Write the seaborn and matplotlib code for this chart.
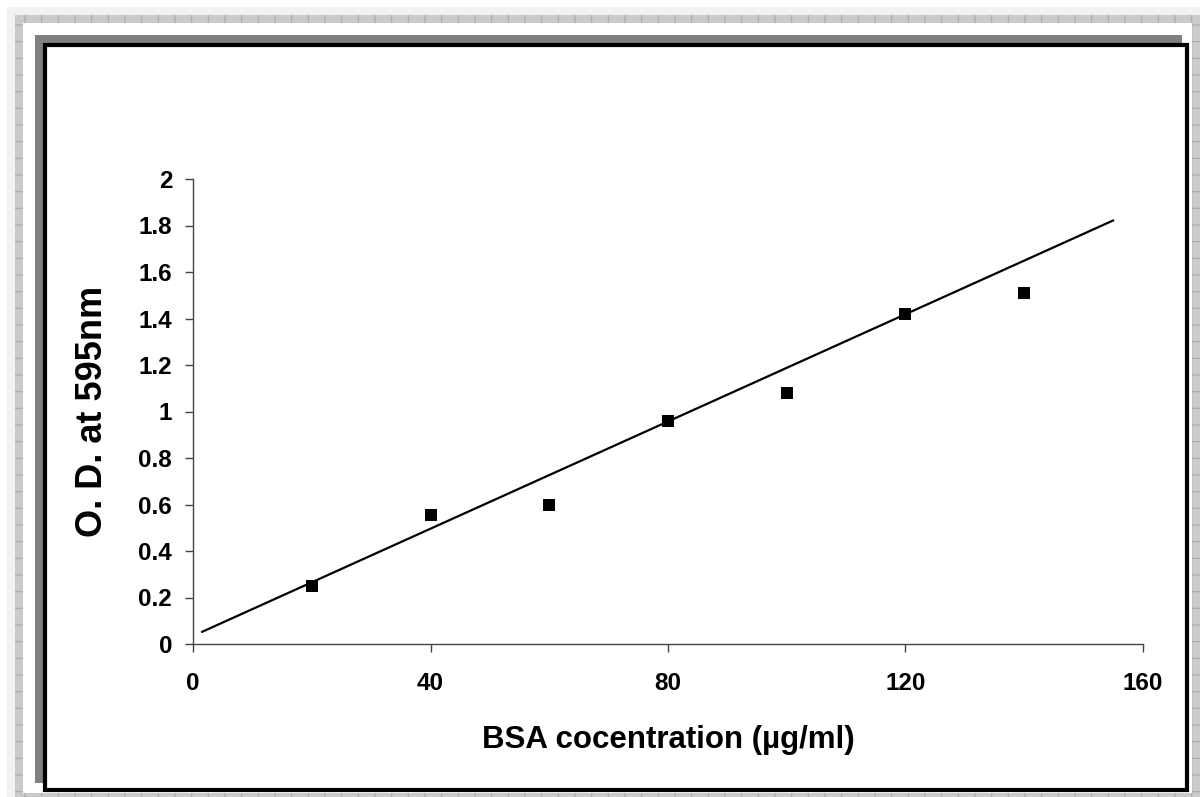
import numpy as np
import pandas as pd
import seaborn as sns
import matplotlib.pyplot as plt
from matplotlib.patches import Rectangle

# standard curve readings
bsa_conc = [20, 40, 60, 80, 100, 120, 140]
od_595 = [0.25, 0.555, 0.60, 0.96, 1.08, 1.42, 1.51]

# fitted line as drawn on the chart (end points)
trend_x = [1.5, 155.0]
trend_y = [0.052, 1.822]

x_ticks = [0, 40, 80, 120, 160]
y_ticks = [0, 0.2, 0.4, 0.6, 0.8, 1, 1.2, 1.4, 1.6, 1.8, 2]
y_tick_labels = ['0', '0.2', '0.4', '0.6', '0.8', '1', '1.2', '1.4', '1.6', '1.8', '2']

sns.set_style("ticks")
plt.rcParams['font.family'] = ['Liberation Sans', 'DejaVu Sans']
plt.rcParams['font.weight'] = 'bold'
plt.rcParams['hatch.linewidth'] = 0.8
plt.rcParams['text.color'] = 'black'
plt.rcParams['axes.labelcolor'] = 'black'
plt.rcParams['xtick.labelcolor'] = 'black'
plt.rcParams['ytick.labelcolor'] = 'black'

W, H = 1200, 797
fig = plt.figure(figsize=(12, 7.97), dpi=100, facecolor='white')

# frame decoration drawn in pixel coords
bg = fig.add_axes([0, 0, 1, 1], zorder=0)
bg.set_xlim(0, W)
bg.set_ylim(H, 0)
bg.axis('off')
bg.add_patch(Rectangle((7, 7), W - 7, H - 7, facecolor='#f2f2f2', edgecolor='none'))
bg.add_patch(Rectangle((15, 15), W - 15, H - 15, facecolor='#cbcbcb',
                       edgecolor='#a9a9a9', hatch='+', linewidth=0))
bg.add_patch(Rectangle((23, 23), 1192 - 23, 793 - 23, facecolor='white', edgecolor='none'))
bg.add_patch(Rectangle((35, 35), 1182 - 35, 783 - 35, facecolor='#808080', edgecolor='none'))
bg.add_patch(Rectangle((45, 45), 1187 - 45, 790 - 45, facecolor='white',
                       edgecolor='black', linewidth=3))

ax = fig.add_axes([193 / W, 1 - 644 / H, 950 / W, 465 / H], zorder=1)
ax.set_facecolor('none')

df = pd.DataFrame({'conc': bsa_conc, 'od': od_595})
trend = pd.DataFrame({'conc': trend_x, 'od': trend_y})

sns.lineplot(data=trend, x='conc', y='od', color='black', linewidth=1.6, ax=ax)
sns.scatterplot(data=df, x='conc', y='od', marker='s', s=75, color='black',
                edgecolor='black', linewidth=0, zorder=3, ax=ax)

ax.set_xlim(0, 160)
ax.set_ylim(0, 2)
ax.set_xticks(x_ticks)
ax.set_xticklabels([str(t) for t in x_ticks])
ax.set_yticks(y_ticks)
ax.set_yticklabels(y_tick_labels)

sns.despine(ax=ax)
for side in ['left', 'bottom']:
    ax.spines[side].set_color('#444444')
    ax.spines[side].set_linewidth(1.0)
ax.tick_params(axis='x', direction='out', length=6, width=1, color='#444444',
               pad=14, labelsize=17.5, labelcolor='black')
ax.tick_params(axis='y', direction='out', length=6, width=1, color='#444444',
               pad=9, labelsize=17.5, labelcolor='black')
for lbl in ax.get_xticklabels() + ax.get_yticklabels():
    lbl.set_fontweight('bold')

ax.set_xlabel('BSA cocentration (µg/ml)', fontsize=22.5, fontweight='bold', color='black')
ax.set_ylabel('O. D. at 595nm', fontsize=26, fontweight='bold', color='black')
ax.xaxis.set_label_coords(0.5, (644 - 740) / 465)
ax.xaxis.label.set_va('center')
ax.yaxis.set_label_coords((92 - 193) / 950, 0.5)
ax.yaxis.label.set_va('center')

fig.savefig('out.png', dpi=100, facecolor=fig.get_facecolor())
